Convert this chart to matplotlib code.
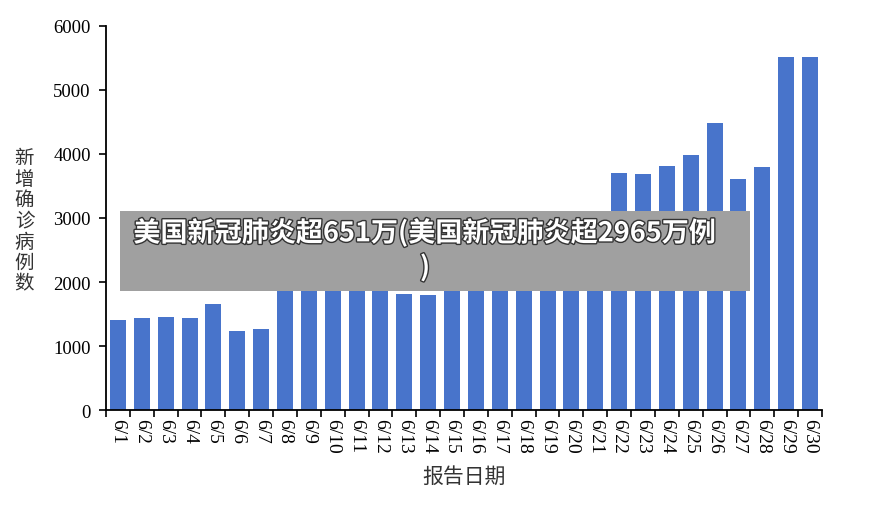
import matplotlib
matplotlib.use('Agg')
import matplotlib.pyplot as plt
import matplotlib.patches as patches
import matplotlib.patheffects as pe
import numpy as np

plt.rcParams['font.family'] = ['Liberation Serif', 'Noto Sans CJK SC']

# data (6/8-6/12 and 6/15-6/21 tops are hidden by the banner)
dates = ['6/%d' % d for d in range(1, 31)]
new_cases = [1410, 1430, 1450, 1430, 1650, 1230, 1270,
             2050, 2150, 2200, 2300, 2250, 1810, 1800,
             2100, 2250, 2400, 2350, 2500, 2450, 2600,
             3700, 3690, 3810, 3980, 4480, 3610, 3800, 5520, 5520]
y_ticks = [0, 1000, 2000, 3000, 4000, 5000, 6000]
banner_text = '美国新冠肺炎超651万(美国新冠肺炎超2965万例\n)'

fig = plt.figure(figsize=(8.71, 5.06), dpi=100)
ax = fig.add_axes([0.1217, 0.1877, 0.822, 0.759])

x = np.arange(len(dates))
ax.bar(x, new_cases, width=0.67, color='#4874CB')

ax.set_xlim(-0.5, len(dates) - 0.5)
ax.set_ylim(0, 6000)
ax.set_yticks(y_ticks)
ax.set_yticklabels([str(v) for v in y_ticks], fontsize=13.5)
ax.set_xticks(x)
ax.set_xticklabels(dates, rotation=270, fontsize=14, va='top', ha='center')
ax.tick_params(axis='x', length=0, pad=6)
ax.set_xticks(np.arange(-0.5, len(dates)), minor=True)
ax.tick_params(axis='x', which='minor', length=5, width=1.2, color='black')
ax.tick_params(axis='y', length=5, width=1.2, pad=6)

for side in ['top', 'right']:
    ax.spines[side].set_visible(False)
for side in ['left', 'bottom']:
    ax.spines[side].set_linewidth(1.3)

ax.set_xlabel('报告日期', family=['Noto Sans CJK SC'], fontsize=15,
              fontweight='light', color='#333333', labelpad=8)
fig.text(0.028, 0.563, '\n'.join('新增确诊病例数'), family=['Noto Sans CJK SC'],
         fontsize=14, fontweight='light', color='#333333',
         ha='center', va='center', linespacing=1.0)

# grey banner over the chart
box = patches.Rectangle((120 / 871, 1 - 292 / 506), 630 / 871, 80 / 506,
                        transform=fig.transFigure, facecolor='#A0A0A0',
                        edgecolor='none', zorder=5)
fig.patches.append(box)
fig.text(425 / 871, 1 - 251 / 506, banner_text, family=['Noto Sans CJK SC'],
         fontsize=19.5, fontweight='bold', color='white', ha='center',
         va='center', linespacing=1.25, zorder=6,
         path_effects=[pe.withStroke(linewidth=2, foreground='#333333')])

fig.savefig('out.png', dpi=100)
